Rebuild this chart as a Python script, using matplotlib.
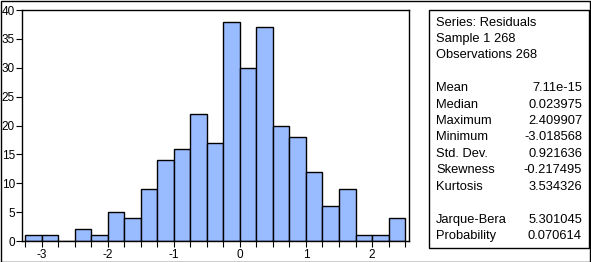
import matplotlib
matplotlib.use("Agg")
import matplotlib.pyplot as plt
import numpy as np
from matplotlib.patches import Rectangle
from matplotlib.ticker import MultipleLocator

plt.rcParams["font.family"] = ["Liberation Sans", "DejaVu Sans"]
plt.rcParams["axes.unicode_minus"] = False

# histogram of residuals, bin width 0.25
bin_edges = np.arange(-3.25, 2.5001, 0.25)
counts = [1, 1, 0, 2, 1, 5, 4, 9, 14, 16, 22, 17, 38, 30, 37, 20, 18, 12, 6, 9, 1, 1, 4]

header_lines = ["Series: Residuals", "Sample 1 268", "Observations 268"]
stat_names = ["Mean", "Median", "Maximum", "Minimum", "Std. Dev.", "Skewness", "Kurtosis"]
stat_values = ["7.11e-15", "0.023975", "2.409907", "-3.018568", "0.921636", "-0.217495", "3.534326"]
test_names = ["Jarque-Bera", "Probability"]
test_values = ["5.301045", "0.070614"]

W, H = 591, 262
fig = plt.figure(figsize=(W / 100, H / 100), dpi=100)


def px_box(x0, y0, x1, y1):
    return [x0 / W, 1 - y1 / H, (x1 - x0) / W, (y1 - y0) / H]


ax = fig.add_axes(px_box(22, 10, 409, 241))
ax.bar(bin_edges[:-1], counts, width=0.25, align="edge",
       color="#99bbff", edgecolor="black", linewidth=1.0)
ax.set_xlim(-3.30, 2.56)
ax.set_ylim(0, 40)
ax.set_yticks(range(0, 41, 5))
ax.set_xticks([-3, -2, -1, 0, 1, 2])
ax.xaxis.set_minor_locator(MultipleLocator(0.25))
ax.tick_params(axis="both", which="both", direction="out", length=4, width=0.8,
               labelsize=8.5, pad=2, colors="black")
ax.tick_params(axis="y", pad=1)
for spine in ax.spines.values():
    spine.set_linewidth(1.0)

# outer frame
fig.add_artist(Rectangle((0.5 / W, 0.5 / H), (W - 1.5) / W, (H - 1.5) / H,
                         transform=fig.transFigure, fill=False,
                         edgecolor="black", linewidth=1.0))
# stats box
bx0, by0, bx1, by1 = 429, 10, 589, 248
fig.add_artist(Rectangle((bx0 / W, 1 - by1 / H), (bx1 - bx0) / W, (by1 - by0) / H,
                         transform=fig.transFigure, fill=False,
                         edgecolor="black", linewidth=1.0))

line_h = 16.4
tx, vx = 436, 582
fs = 9.3
y = 22.7
for line in header_lines:
    fig.text(tx / W, 1 - y / H, line, fontsize=fs, va="center", ha="left")
    y += line_h
y += line_h
for name, val in zip(stat_names, stat_values):
    fig.text(tx / W, 1 - y / H, name, fontsize=fs, va="center", ha="left")
    fig.text(vx / W, 1 - y / H, val, fontsize=fs, va="center", ha="right")
    y += line_h
y += line_h
for name, val in zip(test_names, test_values):
    fig.text(tx / W, 1 - y / H, name, fontsize=fs, va="center", ha="left")
    fig.text(vx / W, 1 - y / H, val, fontsize=fs, va="center", ha="right")
    y += line_h

fig.savefig("out.png", dpi=100)
